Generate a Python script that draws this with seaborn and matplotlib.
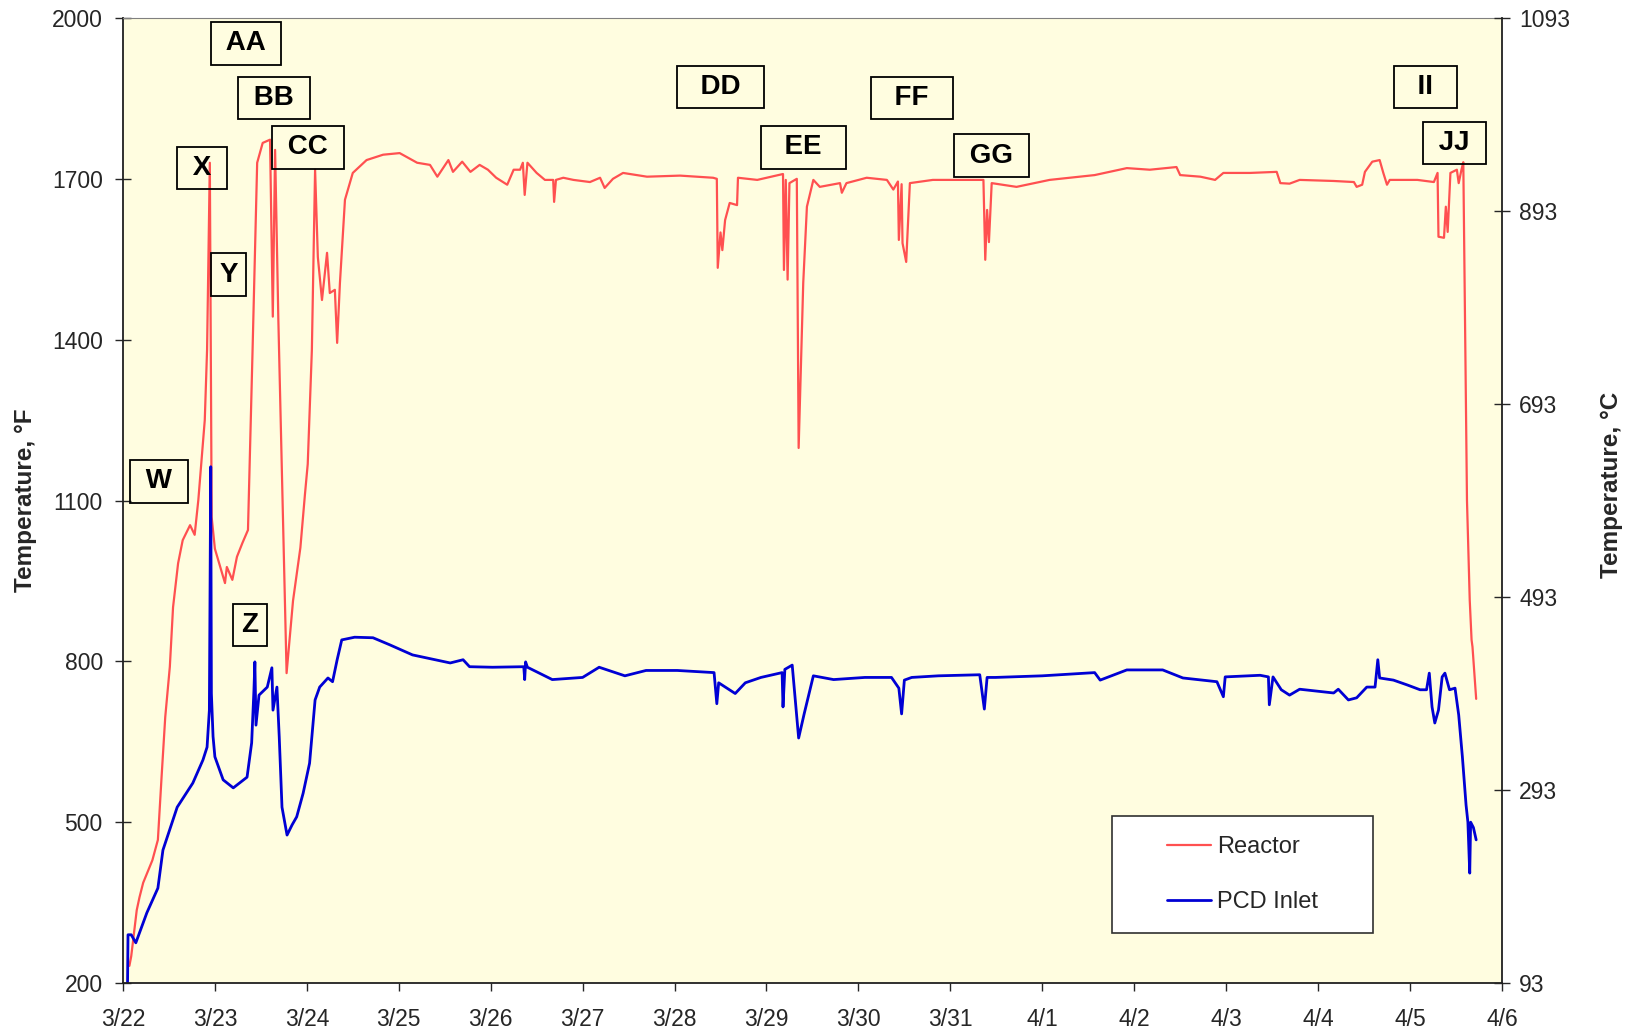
import numpy as np
import pandas as pd
import matplotlib
matplotlib.use("Agg")
import matplotlib.pyplot as plt
import matplotlib.dates as mdates
from matplotlib.ticker import FuncFormatter
from matplotlib.patches import Rectangle
import seaborn as sns

start = pd.Timestamp("2003-03-22")

# time in days after 3/22 00:00, temperatures in deg F
reactor_days = [0.07, 0.09, 0.15, 0.18, 0.22, 0.32, 0.38, 0.42, 0.46, 0.51, 0.545, 0.60, 0.65,
                0.73, 0.78, 0.82, 0.89, 0.915, 0.945, 0.965, 1.0, 1.11, 1.13, 1.19, 1.24, 1.30,
                1.36, 1.41, 1.46, 1.52, 1.60, 1.63, 1.655, 1.69, 1.78, 1.85, 1.93, 1.98, 2.01,
                2.055, 2.09, 2.12, 2.165, 2.22, 2.25, 2.305, 2.33, 2.36, 2.415, 2.50, 2.65, 2.83,
                3.01, 3.20, 3.34, 3.42, 3.54, 3.59, 3.69, 3.78, 3.88, 3.97, 4.06, 4.18, 4.25,
                4.32, 4.35, 4.37, 4.40, 4.50, 4.59, 4.68, 4.69, 4.71, 4.79, 4.90, 5.08, 5.19,
                5.24, 5.33, 5.44, 5.70, 6.06, 6.42, 6.46, 6.47, 6.50, 6.52, 6.55, 6.60, 6.68,
                6.69, 6.90, 7.18, 7.19, 7.21, 7.23, 7.25, 7.33, 7.35, 7.40, 7.44, 7.51, 7.58,
                7.80, 7.82, 7.87, 8.09, 8.31, 8.38, 8.43, 8.44, 8.47, 8.48, 8.52, 8.56, 8.81,
                9.36, 9.38, 9.40, 9.42, 9.45, 9.72, 10.08, 10.57, 10.92, 11.17, 11.46, 11.50,
                11.72, 11.88, 11.97, 12.26, 12.55, 12.59, 12.69, 12.80, 13.17, 13.39, 13.42,
                13.48, 13.51, 13.59, 13.67, 13.71, 13.75, 13.78, 14.08, 14.26, 14.30, 14.31,
                14.37, 14.39, 14.41, 14.44, 14.51, 14.53, 14.56, 14.58, 14.62, 14.65, 14.67,
                14.68, 14.72]
reactor_temp = [232, 250, 336, 360, 387, 429, 467, 584, 696, 790, 901, 983, 1026,
                1054, 1036, 1101, 1250, 1381, 1730, 1069, 1010, 946, 976, 952, 995, 1021,
                1045, 1381, 1730, 1767, 1773, 1443, 1754, 1440, 778, 913, 1012, 1112, 1168,
                1381, 1717, 1554, 1474, 1562, 1487, 1493, 1394, 1505, 1661, 1711, 1735, 1745,
                1748, 1730, 1726, 1704, 1735, 1713, 1732, 1713, 1726, 1717, 1702, 1689, 1717,
                1717, 1730, 1670, 1730, 1711, 1698, 1698, 1657, 1698, 1702, 1698, 1694, 1702,
                1683, 1700, 1711, 1704, 1706, 1702, 1700, 1534, 1600, 1567, 1623, 1655, 1651,
                1702, 1698, 1709, 1530, 1698, 1512, 1692, 1700, 1198, 1506, 1648, 1698, 1685,
                1692, 1674, 1692, 1702, 1698, 1680, 1695, 1586, 1690, 1580, 1545, 1692, 1698,
                1698, 1549, 1642, 1582, 1692, 1685, 1698, 1707, 1720, 1717, 1722, 1707,
                1704, 1698, 1711, 1711, 1713, 1692, 1691, 1698, 1696, 1694, 1685,
                1689, 1713, 1732, 1735, 1711, 1689, 1698, 1698, 1694, 1711, 1592,
                1590, 1648, 1601, 1711, 1717, 1692, 1717, 1731, 1100, 914, 840,
                827, 730]

pcd_days = [0.05, 0.055, 0.09, 0.14, 0.26, 0.38, 0.435, 0.59, 0.76, 0.87, 0.915, 0.94, 0.955,
            0.962, 0.98, 1.0, 1.09, 1.20, 1.35, 1.40, 1.425, 1.435, 1.447, 1.48, 1.57, 1.62,
            1.632, 1.675, 1.70, 1.73, 1.785, 1.84, 1.89, 1.96, 2.03, 2.09, 2.14, 2.23, 2.28,
            2.33, 2.38, 2.52, 2.72, 2.90, 3.15, 3.56, 3.70, 3.77, 4.02, 4.36, 4.37, 4.38, 4.40,
            4.67, 5.00, 5.18, 5.46, 5.69, 6.03, 6.43, 6.46, 6.48, 6.66, 6.77, 6.94, 7.17, 7.18,
            7.20, 7.28, 7.35, 7.41, 7.51, 7.73, 8.07, 8.36, 8.44, 8.47, 8.50, 8.58, 8.87, 9.32,
            9.37, 9.40, 9.49, 10.0, 10.57, 10.63, 10.92, 11.31, 11.53, 11.90, 11.97, 11.99,
            12.37, 12.46, 12.47, 12.51, 12.60, 12.69, 12.80, 13.17, 13.22, 13.33, 13.42, 13.53,
            13.62, 13.65, 13.67, 13.82, 13.97, 14.11, 14.18, 14.21, 14.24, 14.27, 14.31, 14.35,
            14.38, 14.43, 14.49, 14.53, 14.57, 14.61, 14.63, 14.65, 14.66, 14.69, 14.72]
pcd_temp = [200, 290, 290, 275, 331, 377, 448, 528, 573, 616, 640, 709, 1163,
            740, 660, 622, 579, 564, 584, 648, 747, 799, 681, 737, 752, 788,
            709, 752, 659, 528, 476, 495, 510, 554, 610, 728, 752, 769, 762,
            803, 840, 845, 844, 831, 812, 797, 803, 790, 789, 790, 766, 799, 789,
            766, 770, 789, 773, 783, 783, 779, 721, 760, 740, 760, 770, 779, 715,
            785, 793, 657, 702, 773, 766, 770, 770, 750, 702, 765, 770, 773, 775,
            711, 770, 770, 773, 779, 765, 784, 784, 769, 762, 734, 771,
            774, 771, 719, 771, 747, 737, 748, 741, 748, 728, 732, 752,
            752, 803, 769, 765, 756, 747, 747, 778, 715, 685, 709, 771,
            778, 747, 750, 700, 622, 532, 500, 405, 500, 490, 467]

event_labels = ["W", "X", "Y", "Z", "AA", "BB", "CC", "DD", "EE", "FF", "GG", "II", "JJ"]
event_days = [0.39, 0.86, 1.15, 1.38, 1.34, 1.64, 2.01, 6.50, 7.40, 8.58, 9.45, 14.17, 14.48]
event_temp = [1136, 1720, 1521, 868, 1953, 1851, 1759, 1871, 1759, 1851, 1743, 1871, 1767]

left_ticks = [200, 500, 800, 1100, 1400, 1700, 2000]
right_ticks = [93, 293, 493, 693, 893, 1093]

sns.set_style("ticks")
plt.rcParams['font.family'] = ['Liberation Sans', 'DejaVu Sans']

reactor = pd.DataFrame({"time": start + pd.to_timedelta(reactor_days, unit="D"),
                        "temp": reactor_temp})
pcd = pd.DataFrame({"time": start + pd.to_timedelta(pcd_days, unit="D"),
                    "temp": pcd_temp})

fig = plt.figure(figsize=(16.35, 10.34), dpi=100)
ax = fig.add_axes([0.0752, 0.0493, 0.8434, 0.9333])
ax.set_facecolor('#FFFDE0')

sns.lineplot(data=reactor, x="time", y="temp", ax=ax, color="#FF5050", lw=1.6,
             sort=False, estimator=None, label="Reactor", legend=False)
sns.lineplot(data=pcd, x="time", y="temp", ax=ax, color="#0000D4", lw=2.0,
             sort=False, estimator=None, label="PCD Inlet", legend=False)

ax.set_xlim(start, start + pd.Timedelta(days=15))
ax.set_ylim(200, 2000)
ax.set_xticks(pd.date_range(start, periods=16, freq="D"))
ax.xaxis.set_major_formatter(FuncFormatter(
    lambda v, p: f"{mdates.num2date(v).month}/{mdates.num2date(v).day}"))
ax.set_yticks(left_ticks)
ax.set_xlabel("")
ax.set_ylabel("Temperature, °F", fontsize=17.5, fontweight="bold")
ax.yaxis.set_label_coords(-0.062, 0.5)
ax.tick_params(axis="y", direction="inout", length=12, width=1, labelsize=16.5, pad=8.5)
ax.tick_params(axis="x", direction="out", length=6, width=1, labelsize=16.5, pad=12)
ax.spines["top"].set_color("#808080")
ax.spines["right"].set_visible(False)
for s in ["left", "bottom"]:
    ax.spines[s].set_color("#202020")
    ax.spines[s].set_linewidth(1.3)

for lab, d, t in zip(event_labels, event_days, event_temp):
    txt = lab if lab in ("Y", "Z") else (f"  {lab}  " if lab in ("DD", "EE", "FF", "II") else f" {lab} ")
    ax.text(mdates.date2num(start + pd.Timedelta(days=d)), t, txt, ha="center", va="center",
            fontsize=20, fontweight="bold", color="black", zorder=6,
            bbox=dict(boxstyle="square,pad=0.3", fc="none", ec="black", lw=1.3))

# legend frame drawn separately so the padding matches
ax.add_patch(Rectangle((0.717, 0.0518), 0.1895, 0.1212, transform=ax.transAxes,
                       fc="white", ec="#303030", lw=1.2, zorder=4.9))
handles = ax.get_lines()[:2]
ax.legend(handles, ["Reactor", "PCD Inlet"], loc="center", bbox_to_anchor=(0.812, 0.1124),
          frameon=False, fontsize=17, handlelength=1.87, handletextpad=0.27,
          labelspacing=1.4).set_zorder(5)

ax2 = ax.twinx()
ax2.set_ylim(93, 1093)
ax2.set_yticks(right_ticks)
ax2.set_ylabel("Temperature, °C", fontsize=17.5, fontweight="bold", rotation=90)
ax2.yaxis.set_label_coords(1.071, 0.516)
ax2.tick_params(axis="y", direction="inout", length=12, width=1, labelsize=16.5, pad=6.5)
for s in ["left", "top", "bottom"]:
    ax2.spines[s].set_visible(False)
ax2.spines["right"].set_color("#202020")
ax2.spines["right"].set_linewidth(1.3)

fig.savefig("out.png", dpi=100)
